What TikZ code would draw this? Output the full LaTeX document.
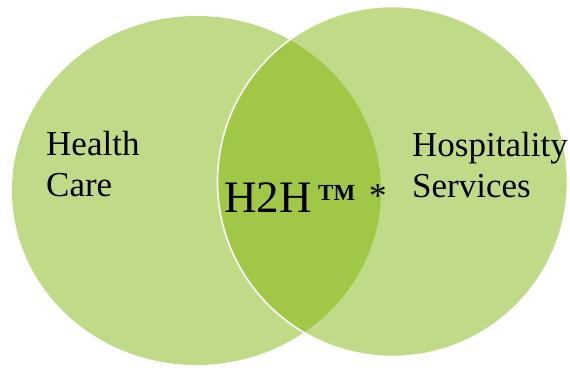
\documentclass[tikz,border=0pt]{standalone}
\usepackage{fontspec}
\setmainfont{Liberation Serif}
\definecolor{lightgreen}{RGB}{192,219,135}
\definecolor{darkgreen}{RGB}{160,199,70}
\begin{document}
\begin{tikzpicture}[x=1bp,y=-1bp,
  lbl/.style={anchor=base west,inner sep=0pt,font=\fontsize{35bp}{41bp}\selectfont,text=black}]
\useasboundingbox (0,0) rectangle (570,369);
% left set
\fill[lightgreen] (196.5,190.5) ellipse [x radius=184.5, y radius=174.5];
% right set
\fill[lightgreen] (392.5,181.5) circle [radius=175];
% overlap
\begin{scope}
  \clip (196.5,190.5) ellipse [x radius=184.5, y radius=174.5];
  \fill[darkgreen] (392.5,181.5) circle [radius=175];
\end{scope}
\draw[white,line width=1.6bp] (392.5,181.5) circle [radius=175];
% labels
\node[lbl] (health) at (46,155) {Health};
\node[lbl] (care) at (46,196) {Care};
\node[lbl] (hosp) at (412,156) {Hospitality};
\node[lbl] (serv) at (412,197) {Services};
\node[lbl,font=\fontsize{45bp}{50bp}\selectfont] (h2h) at (224,212) {H2H};
\node[lbl,font=\fontsize{23bp}{26bp}\selectfont\bfseries] (tm) at (318,200) {TM};
\node[lbl,font=\fontsize{35bp}{38bp}\selectfont] (star) at (369,207) {*};
\end{tikzpicture}
\end{document}
